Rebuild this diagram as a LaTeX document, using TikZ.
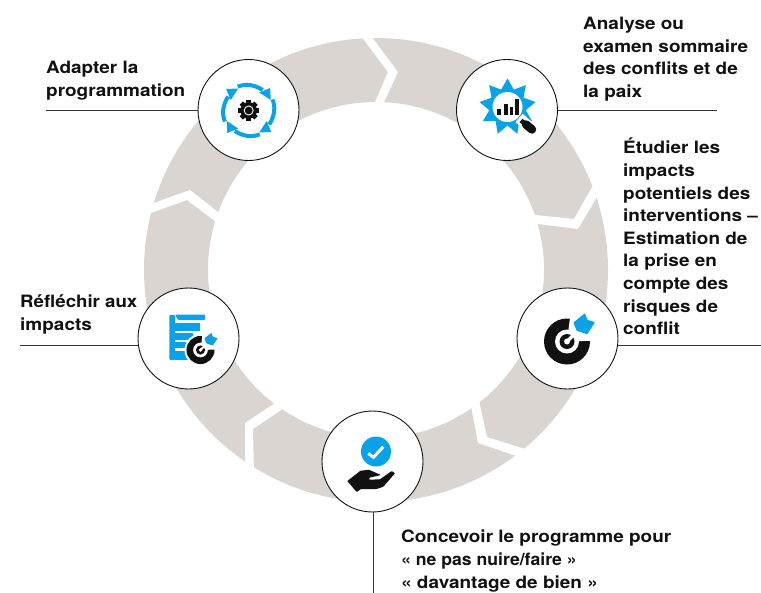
\documentclass[tikz,border=0pt]{standalone}
\usepackage{graphicx}
\usepackage{fontspec}
\setmainfont{TeX Gyre Heros}[FakeStretch=1.115,Ligatures=NoCommon]
\definecolor{ringgray}{HTML}{DAD5D1}
\definecolor{iconblue}{HTML}{0AA2E6}
\definecolor{inkblack}{HTML}{111111}
\tikzset{
  stepcircle/.style={circle,draw=inkblack,fill=white,line width=0.9pt,minimum size=101bp,inner sep=0pt},
  leader/.style={draw=inkblack!85,line width=0.8pt},
  gapshape/.style={fill=white,draw=none},
  caption/.style={anchor=north west,inner sep=0pt,align=left,text=inkblack,
    font=\fontsize{17bp}{22.6bp}\selectfont\bfseries}
}
\newcommand{\targeticon}[3]{%
  \begin{scope}[shift={(#1,#2)},x=#3bp,y=-#3bp]
    \fill[inkblack] (0,0) circle[radius=23*#3bp];
    \fill[white] (0,0) -- (4,-32) -- (32,-32) -- (32,-1) -- cycle;
    \fill[white] (0,0) circle[radius=12*#3bp];
    \fill[inkblack] (0,0) circle[radius=7.5*#3bp];
    \fill[white] (0,0) circle[radius=3*#3bp];
    \fill[white] (-1.2,-1.2) -- (1.2,1.2) -- (11,-8.8) -- (8.8,-11) -- cycle;
    \fill[iconblue,rounded corners=0.6pt] (18,-28.3) -- (20.3,-21.7) -- (28,-19.3) -- (20.3,-7.3) -- (9.7,-10.7) -- (6.3,-19) -- cycle;
  \end{scope}}
\begin{document}
\begin{tikzpicture}[x=1bp,y=-1bp]
\useasboundingbox (0,0) rectangle (761,593);
% ring
\fill[ringgray,even odd rule] (376,270) circle[radius=232bp] (376,270) circle[radius=168bp];
% chevron gaps
\fill[gapshape] (359.5,34) -- (388,72) -- (372.6,107.5) -- (381.5,107.5) -- (398,72) -- (369.5,34) -- cycle;
\fill[gapshape] (595,181.8) -- (574,219) -- (530,214.4) -- (533,223.4) -- (578,229) -- (600,191.8) -- cycle;
\fill[gapshape] (478.7,399) -- (487,437) -- (530.7,450.8) -- (521.7,457.8) -- (478,443) -- (470.7,404) -- cycle;
\fill[gapshape] (286,406.6) -- (253,429) -- (254,474) -- (245,467) -- (245,423) -- (278,401) -- cycle;
\fill[gapshape] (148.4,205) -- (190,190) -- (222.7,215.7) -- (219.7,224.7) -- (187,200) -- (145.4,215) -- cycle;
% circles
\node[stepcircle] (adapter) at (248.5,110) {};
\node[stepcircle] (analyse) at (507,110) {};
\node[stepcircle] (etudier) at (567.5,338.5) {};
\node[stepcircle] (concevoir) at (372.5,461.5) {};
\node[stepcircle] (reflechir) at (188.5,338.5) {};
% leaders
\coordinate (endadapter) at (46,110);
\coordinate (endanalyse) at (717,110);
\coordinate (endetudier) at (761,345);
\coordinate (endreflechir) at (20,345);
\coordinate (endconcevoir) at (373,593);
\draw[leader] (endadapter) -- (endadapter -| adapter.west);
\draw[leader] (endanalyse) -- (endanalyse -| analyse.east);
\draw[leader] (endetudier) -- (618,345);
\draw[leader] (endreflechir) -- (138,345);
\draw[leader] (endconcevoir) -- (373,512);
% captions
\node[caption] (tadapter) at (46,61) {Adapter la\\programmation};
\node[caption] (tanalyse) at (583,17) {Analyse ou\\examen sommaire\\des conflits et de\\la paix};
\node[caption] (tetudier) at (623,138) {Étudier les\\impacts\\potentiels des\\interventions –\\Estimation de\\la prise en\\compte des\\risques de\\conflit};
\node[caption] (treflechir) at (20,295) {\scalebox{0.985}[1]{Réfléchir aux}\\impacts};
\node[caption] (tconcevoir) at (401,530) {Concevoir le programme pour\\\scalebox{0.93}[1]{« ne pas nuire/faire »}\\« davantage de bien »};
% icon: adapter
\begin{scope}[shift={(248.7,110.5)}]
  \foreach \a in {0,90,180,270}{
    \begin{scope}[rotate=\a]
      \draw[iconblue,line width=4bp] (-11,-23.8) .. controls (-4,-26.8) and (5,-26.3) .. (14,-20.5);
      \fill[iconblue] (21.5,-22.5) -- (10.5,-18) -- (22,-10.5) -- cycle;
    \end{scope}}
  \fill[inkblack] (0,0) circle[radius=8.3bp];
  \foreach \a in {0,45,...,315}{
    \begin{scope}[rotate=\a]
      \fill[inkblack] (-2.4,-10.4) rectangle (2.4,-6);
    \end{scope}}
  \fill[white] (0,0) circle[radius=5bp];
  \fill[inkblack] (0,0) circle[radius=3.9bp];
\end{scope}
% icon: analyse
\begin{scope}[shift={(507.5,107)}]
  \fill[iconblue] plot[samples at={0,...,17}] ({-90+20*\x}:{ifthenelse(mod(\x,2)==0,28.5,18.5)}) -- cycle;
  \fill[white] (0,0) circle[radius=15bp];
\end{scope}
\fill[inkblack] (497.3,109.3) rectangle (501.3,114.7);
\fill[inkblack] (504,104.3) rectangle (508,114.7);
\fill[inkblack] (509.5,107) rectangle (513,114.7);
\fill[inkblack] (515,99.3) rectangle (518.7,114.7);
\draw[white,line width=11bp] (519,118) -- (530,127.5);
\draw[inkblack,line width=8.5bp,line cap=round] (526,124.5) -- (532,129.5);
\draw[inkblack,line width=4.5bp] (521,120.5) -- (526,124.5);
% icon: reflechir
\fill[iconblue,rounded corners=1pt] (169.3,360) -- (169.3,315) -- (175,315) -- (175,360) -- cycle;
\fill[iconblue,rounded corners=1pt] (175,314.5) -- (205,314.5) -- (205,320) -- (178,320) -- cycle;
\fill[iconblue] (175,323) rectangle (200,330.5);
\fill[iconblue] (175,332.7) rectangle (193,340);
\fill[iconblue] (175,342) rectangle (188,348.3);
\fill[iconblue] (175,350.7) rectangle (190,360);
\fill[white] (200.5,350) circle[radius=16bp];
\targeticon{200.5}{350}{0.61}
% icon: etudier
\targeticon{567}{341.5}{1}
% icon: concevoir
\fill[iconblue] (376,451.5) circle[radius=15bp];
\draw[white,line width=3bp] (368.3,453.5) -- (373.5,457.3) -- (383.3,446.7);
\fill[inkblack,rounded corners=0.6pt] (347.3,481) -- (360.5,470.7) -- (369,469.8) -- (381,475) -- (369.3,477.7) -- (369.3,479.7) -- (380,479.3) -- (391.7,471) -- (395,473.3) -- (383.3,486.7) -- (376.7,489) -- (361,489) -- (356.7,492) -- cycle;
\end{tikzpicture}
\end{document}
